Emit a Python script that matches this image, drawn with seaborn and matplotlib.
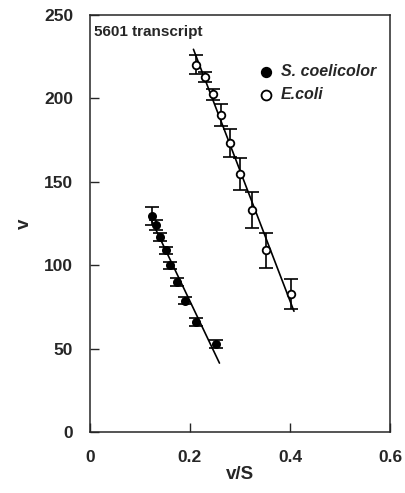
import numpy as np
import pandas as pd
import matplotlib
matplotlib.use('Agg')
import matplotlib.pyplot as plt
import seaborn as sns

# values
sc_x = [0.125, 0.133, 0.141, 0.152, 0.161, 0.175, 0.191, 0.213, 0.253]
sc_y = [129.5, 124, 117, 109, 100, 90, 78.7, 66, 52.8]
sc_err = [5.4, 3.0, 2.4, 2.2, 2.0, 2.2, 2.2, 2.4, 2.6]

ec_x = [0.213, 0.230, 0.247, 0.263, 0.281, 0.300, 0.325, 0.353, 0.402]
ec_y = [220.3, 212.8, 202.6, 190, 173, 154.7, 133, 109, 82.7]
ec_err = [5.7, 3.0, 3.3, 6.4, 8.4, 9.7, 10.6, 10.5, 8.8]

x_ticks = [0, 0.2, 0.4, 0.6]
y_ticks = [0, 50, 100, 150, 200, 250]

sns.set_style('ticks')
plt.rcParams['font.family'] = ['Liberation Sans', 'DejaVu Sans']
plt.rcParams['font.weight'] = 'bold'


def fit_line(x, y):
    """least squares line over the data range, slightly extended"""
    x = np.asarray(x)
    k, b = np.polyfit(x, y, 1)
    xs = np.array([x.min() - 0.006, x.max() + 0.006])
    return pd.DataFrame({'x': xs, 'y': k * xs + b})


fig = plt.figure(figsize=(4.05, 4.93), dpi=100)
ax = fig.add_axes([0.222, 0.1237, 0.741, 0.8459])

for x, y, err in [(sc_x, sc_y, sc_err), (ec_x, ec_y, ec_err)]:
    ax.errorbar(x, y, yerr=err, fmt='none', ecolor='black', elinewidth=1.2,
                capsize=4.7, capthick=1.2, zorder=2)
    line = fit_line(x, y)
    sns.lineplot(data=line, x='x', y='y', color='black', linewidth=1.2, ax=ax,
                 zorder=3)

sns.scatterplot(x=sc_x, y=sc_y, marker='o', s=30, color='black',
                edgecolor='black', linewidth=1.0, ax=ax, zorder=4,
                label='S. coelicolor')
sns.scatterplot(x=ec_x, y=ec_y, marker='o', s=30, facecolor='white',
                edgecolor='black', linewidth=1.3, ax=ax, zorder=4,
                label='E.coli')

ax.set_xlim(0, 0.6)
ax.set_ylim(0, 250)
ax.set_xticks(x_ticks)
ax.set_xticklabels(['0', '0.2', '0.4', '0.6'])
ax.set_yticks(y_ticks)
ax.tick_params(direction='in', length=6.5, width=1.0, labelsize=12.5, pad=12)
ax.tick_params(axis='x', pad=13)
for lab in ax.get_xticklabels() + ax.get_yticklabels():
    lab.set_fontweight('bold')
for sp in ax.spines.values():
    sp.set_visible(True)
    sp.set_linewidth(1.1)

ax.set_xlabel('v/S', fontsize=13.5, fontweight='bold', labelpad=1)
ax.set_ylabel('v', fontsize=13.5, fontweight='bold', labelpad=8)

ax.text(0.012, 0.975, '5601 transcript', transform=ax.transAxes, ha='left',
        va='top', fontsize=11, fontweight='bold')

leg = ax.legend(loc='upper right', bbox_to_anchor=(0.985, 0.905), frameon=False,
                handletextpad=0.45, borderaxespad=0.2, labelspacing=0.5,
                handlelength=1.0, markerscale=1.3,
                prop={'size': 11.5, 'weight': 'bold', 'style': 'italic'})

fig.savefig('out.png', dpi=100)
